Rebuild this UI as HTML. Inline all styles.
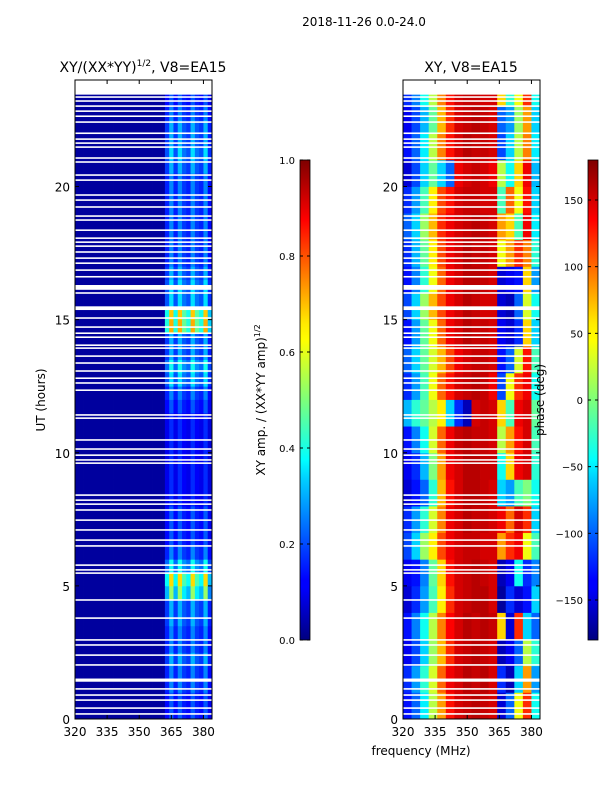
<!DOCTYPE html>
<html><head><meta charset="utf-8">
<style>
body{margin:0;background:#fff;width:600px;height:800px;overflow:hidden;font-family:"DejaVu Sans","Liberation Sans",sans-serif;}
svg text{font-family:"DejaVu Sans","Liberation Sans",sans-serif;fill:#000;}
</style></head>
<body>
<svg id="fig" width="600" height="800" viewBox="0 0 600 800" xmlns="http://www.w3.org/2000/svg">
<defs>
<linearGradient id="jet" x1="0" y1="1" x2="0" y2="0">
<stop offset="0" stop-color="#00007f"/><stop offset="0.11" stop-color="#0000ff"/><stop offset="0.125" stop-color="#0000ff"/>
<stop offset="0.34" stop-color="#00d4ff"/><stop offset="0.375" stop-color="#0ff"/><stop offset="0.5" stop-color="#7dff7a"/>
<stop offset="0.625" stop-color="#ff0"/><stop offset="0.66" stop-color="#ffea00"/><stop offset="0.875" stop-color="#f00"/><stop offset="1" stop-color="#7f0000"/>
</linearGradient>
</defs>
<text x="364" y="26" font-size="12" text-anchor="middle">2018-11-26 0.0-24.0</text>
<text x="143" y="72" font-size="14" text-anchor="middle">XY/(XX*YY)<tspan font-size="9" dy="-6">1/2</tspan><tspan dy="6">, V8=EA15</tspan></text>
<text x="471" y="72" font-size="14" text-anchor="middle">XY, V8=EA15</text>
<g id="leftMap"></g>
<g id="rightMap"></g>
<g id="axes"></g>
<text transform="translate(45,400) rotate(-90)" font-size="12" text-anchor="middle">UT (hours)</text>
<text x="421" y="755" font-size="12" text-anchor="middle">frequency (MHz)</text>
<rect x="300" y="160" width="10" height="480" fill="url(#jet)" stroke="#000" stroke-width="0.8"/>
<rect x="588" y="160" width="10" height="480" fill="url(#jet)" stroke="#000" stroke-width="0.8"/>
<text transform="translate(265,400) rotate(-90)" font-size="12" text-anchor="middle">XY amp. / (XX*YY amp)<tspan font-size="8" dy="-5">1/2</tspan></text>
<text transform="translate(544,400) rotate(-90)" font-size="12" text-anchor="middle">phase (deg)</text>
<g id="cbticks"></g>
</svg>
<script>
const NS="http://www.w3.org/2000/svg";
// ---- data ----
const ampFreqs=[320,322,324,326,328,330,332,334,336,338,340,342,344,346,348,350,352,354,356,358,360,362,364,366,368,370,372,374,376,378,380,382];
const ampColProfile=[0,0,0,0,0,0,0,0,0,0,0,0,0,0,0,0,0,0,0,0,0,0.5,0.9,0.5,0.9,0.6,0.5,0.9,0.6,0.5,0.9,0.4];
const ampRowGain=[0.20,0.20,0.25,0.25,0.30,0.25,0.25,0.30,0.30,0.55,0.70,0.40,0.25,0.20,0.20,0.20,0.15,0.15,0.15,0.15,0.15,0.15,0.15,0.20,0.25,0.35,0.40,0.30,0.30,0.75,0.72,0.35,0.35,0.30,0.25,0.25,0.25,0.25,0.25,0.25,0.25,0.30,0.35,0.30,0.30,0.25,0.20,0.20];
const ampBase=0.03;
const phaseFreqs=[320,324,328,332,336,340,344,348,352,356,360,364,368,372,376,380];
const phaseRows=[
[-130,-100,-50,20,80,130,150,155,160,155,150,-150,-100,40,120,-40],
[-120,-80,-30,30,100,140,150,160,155,160,150,-120,-160,-60,80,-80],
[-140,-110,-60,10,70,120,150,155,160,155,150,-160,-140,-100,20,-30],
[-130,-90,-40,20,90,135,150,160,155,160,155,60,-150,120,-60,-100],
[-150,-120,-80,-20,50,120,150,155,160,160,150,-170,-120,-150,-130,-60],
[-140,-130,-90,-10,60,130,150,155,160,155,150,-160,-140,-40,-120,-90],
[-110,-60,10,50,110,140,150,155,155,150,150,80,120,140,40,-20],
[-120,-80,-30,30,90,140,150,160,155,155,150,140,100,150,120,-60],
[-150,-130,-100,-30,70,130,150,160,160,155,150,-60,-80,-20,0,-40],
[-140,-120,-70,0,80,140,150,160,160,155,155,-40,60,140,150,-30],
[-130,-90,-40,30,100,140,155,160,155,155,150,20,80,130,150,-20],
[-70,-30,-10,20,50,-60,-120,-160,150,155,150,60,-20,140,150,-10],
[-120,-80,-20,40,100,130,150,155,160,155,140,-110,40,120,140,-40],
[-100,-60,-10,30,70,110,140,150,155,155,150,-130,-100,30,130,-20],
[-130,-80,-10,40,100,140,150,160,155,155,150,-140,-150,-120,60,-60],
[-110,-60,10,70,110,140,150,160,155,150,150,-150,-160,-100,30,-40],
[-130,-90,-30,40,100,140,150,160,160,155,150,-150,-140,-130,60,-80],
[-120,-70,-10,50,110,140,150,160,155,155,150,40,80,120,90,-30],
[-100,-60,10,70,120,140,150,155,160,155,150,80,60,-20,140,-50],
[-120,-80,-20,50,110,130,150,155,155,150,150,-20,100,40,130,-60],
[-150,-110,-60,-10,-60,-100,140,150,155,150,140,20,-40,60,140,-70],
[-130,-100,-50,20,90,130,150,160,155,155,150,-110,-60,20,90,-50],
[-140,-110,-70,-10,70,120,150,155,160,155,150,-100,-80,10,80,-60],
[-120,-90,-40,20,90,130,150,155,155,150,150,60,-30,40,120,-40]
];
const flagStarts=[23.45,23.33,23.18,22.99,22.80,22.61,22.39,21.97,21.75,21.60,21.45,21.04,20.89,20.40,20.21,19.65,19.46,19.20,18.86,18.71,18.33,18.03,17.88,17.73,17.51,17.28,17.09,16.83,16.58,16.12,15.97,15.36,15.03,14.69,14.46,14.31,14.01,13.90,13.60,13.34,13.04,12.77,12.59,12.32,11.39,11.27,10.45,10.11,9.88,9.70,9.58,8.38,8.19,8.04,7.82,7.44,7.07,6.69,6.47,5.75,5.57,5.45,4.44,3.76,2.94,2.75,2.37,2.00,1.40,1.10,0.87,0.68,0.38,0.16];
const flagEnds=  [24.00,23.39,23.24,23.05,22.86,22.67,22.45,22.03,21.81,21.66,21.51,21.10,20.95,20.46,20.27,19.71,19.52,19.26,18.92,18.77,18.39,18.09,17.94,17.79,17.57,17.34,17.15,16.89,16.64,16.30,16.03,15.50,15.09,14.75,14.52,14.37,14.07,13.96,13.66,13.40,13.10,12.83,12.65,12.38,11.45,11.33,10.51,10.17,9.94,9.76,9.64,8.44,8.25,8.10,7.88,7.50,7.13,6.75,6.53,5.81,5.63,5.51,4.50,3.82,3.00,2.81,2.43,2.06,1.52,1.16,0.93,0.74,0.44,0.22];
const yTicks=[0,5,10,15,20];
const xTicks=[320,335,350,365,380];
const ampTicks=[0.0,0.2,0.4,0.6,0.8,1.0];
const phaseTicks=[-150,-100,-50,0,50,100,150];
// ---- scales ----
const panels=[{x0:75},{x0:403}];
const PW=137,PT=80,PB=719;
const yS=t=>PB-(t/24)*(PB-PT);
const xS=(x0,f)=>x0+(f-320)/64*PW;
function jet(v){v=Math.max(0,Math.min(1,v));
 const r=Math.min(4*v-1.5,-4*v+4.5),g=Math.min(4*v-0.5,-4*v+3.5),b=Math.min(4*v+0.5,-4*v+2.5);
 const c=x=>Math.round(255*Math.max(0,Math.min(1,x)));return `rgb(${c(r)},${c(g)},${c(b)})`;}
function rect(par,x,y,w,h,fill){const r=document.createElementNS(NS,'rect');
 r.setAttribute('x',x);r.setAttribute('y',y);r.setAttribute('width',w);r.setAttribute('height',h);r.setAttribute('fill',fill);par.appendChild(r);return r;}
const L=document.getElementById('leftMap');
ampRowGain.forEach((g,ri)=>{const t0=ri*0.5,t1=t0+0.5;
 ampFreqs.forEach((f,ci)=>{const v=ampBase+ampColProfile[ci]*g;
  const x=xS(75,f),x2=xS(75,f+2);
  const r=rect(L,x,yS(t1),x2-x+0.4,yS(t0)-yS(t1)+0.4,jet(v));
  
  });});
const R=document.getElementById('rightMap');
phaseRows.forEach((row,ri)=>{const t0=ri,t1=ri+1;
 row.forEach((p,ci)=>{const f=phaseFreqs[ci];const x=xS(403,f),x2=xS(403,f+4);
  const r=rect(R,x,yS(t1),x2-x+0.4,yS(t0)-yS(t1)+0.4,jet((p+180)/360));
  
  });});
panels.forEach(p=>{flagStarts.forEach((s,i)=>{
 const r=rect(p.x0===75?L:R,p.x0,yS(flagEnds[i]),PW,yS(s)-yS(flagEnds[i]),'#fff');
 
 });});
const A=document.getElementById('axes');
function line(par,x1,y1,x2,y2,w){const l=document.createElementNS(NS,'line');
 l.setAttribute('x1',x1);l.setAttribute('y1',y1);l.setAttribute('x2',x2);l.setAttribute('y2',y2);l.setAttribute('stroke','#000');l.setAttribute('stroke-width',w||1);par.appendChild(l);return l;}
function text(par,x,y,s,anchor){const t=document.createElementNS(NS,'text');
 t.setAttribute('x',x);t.setAttribute('y',y);t.setAttribute('font-size','12');t.setAttribute('text-anchor',anchor);t.textContent=s;par.appendChild(t);return t;}
panels.forEach(p=>{
 const fr=rect(A,p.x0,PT,PW,PB-PT,'none');fr.setAttribute('stroke','#000');fr.setAttribute('stroke-width','1');
 
 
 yTicks.forEach(t=>{const y=yS(t);line(A,p.x0,y,p.x0+4,y);line(A,p.x0+PW,y,p.x0+PW-4,y);
  const tl=text(A,p.x0-5,y+5,String(t),'end');
  
  });
 xTicks.forEach(f=>{const x=xS(p.x0,f);line(A,x,PB,x,PB-4);line(A,x,PT,x,PT+4);
  const tl=text(A,x,PB+17,String(f),'middle');
  
  });
});
const C=document.getElementById('cbticks');
ampTicks.forEach(v=>{const y=640-v*480;line(C,300,y,303,y);line(C,310,y,307,y);
 const tl=text(C,295,y+4,v.toFixed(1),'end');tl.setAttribute('font-size','10');
 
 });
phaseTicks.forEach(v=>{const y=400-v*480/360;line(C,588,y,591,y);line(C,598,y,595,y);
 const tl=text(C,583,y+4,String(v).replace('-','\u2212'),'end');tl.setAttribute('font-size','10');
 
 });
</script>
</body></html>
